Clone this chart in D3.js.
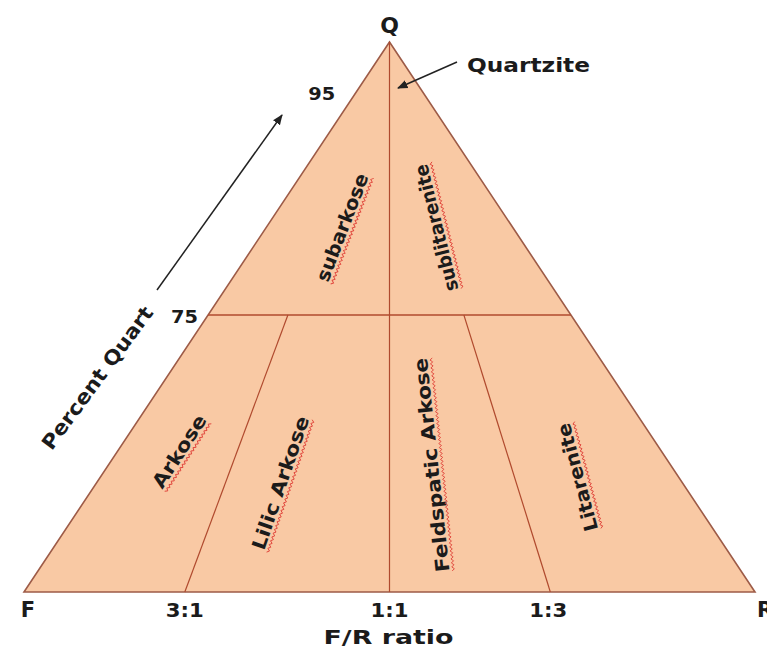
<!DOCTYPE html>
<html>
<head>
<meta charset="utf-8">
<script src="https://cdn.jsdelivr.net/npm/d3@7"></script>
<style>
  html, body { margin: 0; padding: 0; background: #fff; }
  svg { display: block; }
  text { font-family: "DejaVu Sans", Lato, sans-serif; font-weight: 700; fill: #1b1b1b; }
</style>
</head>
<body>
<svg id="chart"></svg>
<script>
// corner end-members
const corners = ['Q', 'F', 'R'];
// percent quartz levels marked on the left side
const quartzTicks = [75, 95];
// F/R ratio dividers along the base (fraction of R as drawn) and where they reach the 75% line
const ratioLabels = ['3:1', '1:1', '1:3'];
const ratioBase = [0.22, 0.5, 0.72];
const ratioTop = [0.22, 0.5, 0.705];
// classification fields
const fieldNames = ['subarkose', 'sublitarenite', 'Arkose', 'Lilic Arkose', 'Feldspatic Arkose', 'Litarenite'];
const fieldQ = [83, 83, 38, 29.5, 34.4, 31.1];
const fieldF = [0.311, 0.692, 0.115, 0.315, 0.576, 0.826];

const width = 767, height = 657;
const svg = d3.select('#chart').attr('width', width).attr('height', height);

// diagram scales: quartz percent -> vertical, base fraction -> horizontal
const yScale = d3.scaleLinear().domain([0, 75, 100]).range([592, 315, 42]);
const xScale = d3.scaleLinear().domain([0, 1]).range([24, 755]);
const apexX = xScale(0.5), apexY = yScale(100), baseY = yScale(0);

// point inside triangle: q = % quartz, f = position across (0 = F side, 1 = R side)
function pt(q, f) {
  const y = yScale(q);
  const k = (y - apexY) / (baseY - apexY);
  return [apexX + (xScale(f) - apexX) * k, y];
}

// stretch text to the wide geometric face of the original
function fit(sel, len) {
  sel.attr('textLength', len).attr('lengthAdjust', 'spacingAndGlyphs');
  return sel;
}

const defs = svg.append('defs');
defs.append('marker')
  .attr('id', 'arr')
  .attr('viewBox', '0 0 10 10')
  .attr('refX', 9).attr('refY', 5)
  .attr('markerWidth', 7).attr('markerHeight', 7)
  .attr('orient', 'auto-start-reverse')
  .append('path').attr('d', 'M0,1 L10,5 L0,9 Z').attr('fill', '#222');

// triangle
const line = d3.line();
svg.append('path')
  .attr('d', line([pt(100, 0.5), pt(0, 0), pt(0, 1)]) + 'Z')
  .attr('fill', '#f9c9a4')
  .attr('stroke', '#9d5b47')
  .attr('stroke-width', 1.6)
  .attr('stroke-linejoin', 'miter');

// 75% quartz line
svg.append('path')
  .attr('d', line([pt(quartzTicks[0], 0), pt(quartzTicks[0], 1)]))
  .attr('stroke', '#b04a2e').attr('stroke-width', 1.5).attr('fill', 'none');

// F/R ratio dividers
ratioBase.forEach((f, i) => {
  const top = ratioLabels[i] === '1:1' ? pt(100, ratioTop[i]) : pt(quartzTicks[0], ratioTop[i]);
  svg.append('path')
    .attr('d', line([pt(0, f), top]))
    .attr('stroke', '#b04a2e').attr('stroke-width', 1.2).attr('fill', 'none');
});

// ratio labels under base
svg.append('g').selectAll('text')
  .data(ratioLabels)
  .join('text')
  .attr('x', (d, i) => xScale(ratioBase[i]) + (i === 2 ? -2 : 0))
  .attr('y', baseY + 25)
  .attr('text-anchor', 'middle')
  .style('font-size', '19px')
  .attr('textLength', 38).attr('lengthAdjust', 'spacingAndGlyphs')
  .text(d => d);

fit(svg.append('text')
  .attr('x', apexX - 1).attr('y', baseY + 52)
  .attr('text-anchor', 'middle')
  .style('font-size', '19px')
  .text('F/R ratio'), 130);

// corner labels
svg.append('text').attr('x', apexX).attr('y', apexY - 9)
  .attr('text-anchor', 'middle').style('font-size', '22px').text(corners[0]);
svg.append('text').attr('x', xScale(0) + 4).attr('y', baseY + 25)
  .attr('text-anchor', 'middle').style('font-size', '21px').text(corners[1]);
svg.append('text').attr('x', xScale(1) + 2).attr('y', baseY + 25)
  .attr('text-anchor', 'start').style('font-size', '21px').text(corners[2]);

// quartz tick labels
quartzTicks.forEach(q => {
  const [x, y] = pt(q, 0);
  fit(svg.append('text')
    .attr('x', q === 75 ? x - 10 : x - 18)
    .attr('y', q === 75 ? y + 8 : y + 3)
    .attr('text-anchor', 'end')
    .style('font-size', '18px')
    .text(q), 27);
});

// Percent quartz axis title + arrow
fit(svg.append('text')
  .attr('transform', 'translate(103,382) rotate(-53.5)')
  .attr('text-anchor', 'middle')
  .style('font-size', '20px')
  .text('Percent Quart'), 172);
svg.append('line')
  .attr('x1', 157).attr('y1', 290).attr('x2', 282).attr('y2', 115)
  .attr('stroke', '#222').attr('stroke-width', 1.5)
  .attr('marker-end', 'url(#arr)');

// Quartzite callout
fit(svg.append('text').attr('x', 467).attr('y', 72)
  .style('font-size', '20px').text('Quartzite'), 123);
svg.append('line')
  .attr('x1', 457).attr('y1', 62).attr('x2', 398).attr('y2', 88)
  .attr('stroke', '#222').attr('stroke-width', 1.5)
  .attr('marker-end', 'url(#arr)');

// field labels, rotated, with spell-check squiggle
const fieldAngle = [-69, -104, -57, -71, -96, -105];
const fieldLen = [114, 130, 83, 140, 215, 111];
fieldNames.forEach((name, i) => {
  const [x, y] = pt(fieldQ[i], fieldF[i]);
  const g = svg.append('g').attr('transform', `translate(${x},${y}) rotate(${fieldAngle[i]})`);
  const len = fieldLen[i];
  fit(g.append('text')
    .attr('text-anchor', 'middle')
    .attr('y', 6)
    .style('font-size', '19px')
    .text(name), len);
  const pts = d3.range(0, Math.floor(len / 2) + 1).map(j => [-len / 2 + j * 2, 10 + (j % 2 ? 1.2 : -1.2)]);
  g.append('path')
    .attr('d', line(pts))
    .attr('fill', 'none')
    .attr('stroke', '#e0463c')
    .attr('stroke-width', 0.9);
});
</script>
</body>
</html>
